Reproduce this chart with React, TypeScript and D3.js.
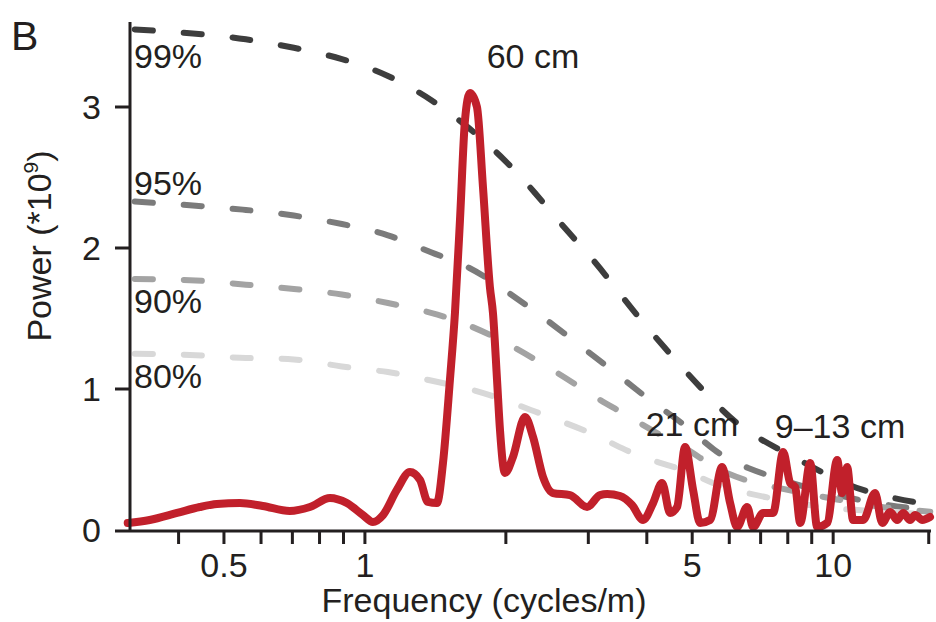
import React from "react";
import * as d3 from "d3";

// periodogram (red line)
const freq = [
  0.3115, 0.347, 0.397, 0.444, 0.483, 0.541, 0.605, 0.691, 0.763, 0.842,
  0.915, 0.99, 1.04, 1.093, 1.17, 1.248, 1.311, 1.363, 1.425, 1.468,
  1.519, 1.557, 1.596, 1.636, 1.676, 1.735, 1.787, 1.849, 1.877, 1.915,
  1.943, 1.991, 2.071, 2.197, 2.286, 2.401, 2.522, 2.742, 2.982, 3.178,
  3.29, 3.506, 3.72, 3.927, 4.125, 4.312, 4.485, 4.642, 4.828, 5.022,
  5.198, 5.46, 5.792, 6.025, 6.236, 6.551, 6.748, 7.087, 7.444, 7.821,
  8.094, 8.296, 8.504, 8.933, 9.245, 9.71, 10.2, 10.45, 10.71, 11.03,
  11.59, 12.29, 12.73, 13.24, 13.7, 14.11, 14.6, 14.97, 15.5, 16.1,
];
const power = [
  0.05, 0.071, 0.121, 0.163, 0.184, 0.191, 0.17, 0.135, 0.163, 0.227,
  0.191, 0.106, 0.057, 0.106, 0.284, 0.411, 0.355, 0.199, 0.191, 0.475,
  1.064, 1.539, 2.199, 2.908, 3.099, 3.0, 2.433, 1.723, 1.539, 1.064,
  0.709, 0.404, 0.518, 0.801, 0.66, 0.376, 0.262, 0.248, 0.163, 0.248,
  0.255, 0.241, 0.177, 0.071, 0.191, 0.333, 0.121, 0.163, 0.589, 0.284,
  0.05, 0.071, 0.447, 0.191, 0.021, 0.163, 0.021, 0.121, 0.121, 0.553,
  0.333, 0.305, 0.05, 0.475, 0.021, 0.05, 0.496, 0.262, 0.447, 0.071,
  0.071, 0.262, 0.05, 0.128, 0.071, 0.121, 0.071, 0.106, 0.071, 0.092,
];

// significance thresholds
const thrFreq = [
  0.3225, 0.4354, 0.5568, 0.705, 0.8929, 1.12, 1.384, 1.668, 1.991, 2.308,
  2.676, 3.116, 3.594, 4.145, 4.828, 5.568, 6.584, 8.42, 10.45, 12.92, 16.12,
];
const thr99 = [3.55, 3.52, 3.48, 3.42, 3.34, 3.22, 3.05, 2.85, 2.62, 2.39, 2.14, 1.89, 1.63, 1.38, 1.13, 0.91, 0.7, 0.5, 0.34, 0.24, 0.18];
const thr95 = [2.33, 2.3, 2.27, 2.23, 2.17, 2.09, 1.97, 1.86, 1.7, 1.55, 1.39, 1.22, 1.06, 0.9, 0.74, 0.57, 0.44, 0.32, 0.24, 0.18, 0.14];
const thr90 = [1.78, 1.77, 1.74, 1.71, 1.67, 1.61, 1.54, 1.45, 1.33, 1.21, 1.08, 0.94, 0.82, 0.7, 0.58, 0.45, 0.35, 0.27, 0.21, 0.16, 0.13];
const thr80 = [1.25, 1.24, 1.22, 1.21, 1.16, 1.12, 1.06, 1.0, 0.92, 0.84, 0.76, 0.67, 0.57, 0.49, 0.42, 0.33, 0.26, 0.19, 0.15, 0.13, 0.11];

const thrLabels = ["99%", "95%", "90%", "80%"];
const thrColors = ["#3d3d3d", "#7b7b7b", "#a3a3a3", "#d8d8d8"];

const xTickLabels = [0.5, 1, 5, 10];
const xTicks = [0.4, 0.5, 0.6, 0.7, 0.8, 0.9, 1, 2, 3, 4, 5, 6, 7, 8, 9, 10, 16];
const yTicks = [0, 1, 2, 3];

const peakLabels = ["60 cm", "21 cm", "9\u201313 cm"];

const font = "'Liberation Sans', Arial, Helvetica, sans-serif";
const ink = "#231f20";
const fs = 34;

export default function App() {
  const x = d3.scaleLog().domain([0.315, 16.1]).range([130, 930]);
  const y = d3.scaleLinear().domain([0, 3.6]).range([530, 22.4]);

  const line = d3
    .line<[number, number]>()
    .x((d) => x(d[0]))
    .y((d) => y(d[1]))
    .curve(d3.curveMonotoneX);

  const thrLine = d3
    .line<[number, number]>()
    .x((d) => x(d[0]))
    .y((d) => y(d[1]))
    .curve(d3.curveNatural);

  const thresholds = [thr99, thr95, thr90, thr80];
  const redData = freq.map((f, i) => [f, power[i]] as [number, number]);

  // text placement
  const thrLabelY = [68, 195, 313, 388];
  const peakPos = [[533, 68], [692, 436], [840, 438]];

  return (
    <svg
      width={936}
      height={622}
      style={{ position: "absolute", left: 0, top: 0, background: "#fff" }}
      fontFamily={font}
    >
      <rect width={936} height={622} fill="#fff" />
      <text x={11} y={50} fontSize={41} fill={ink}>B</text>

      {/* threshold curves */}
      {thresholds.map((vals, k) => (
        <path
          key={thrLabels[k]}
          d={thrLine(thrFreq.map((f, i) => [f, vals[i]] as [number, number])) || ""}
          fill="none"
          stroke={thrColors[k]}
          strokeWidth={6}
          strokeLinecap="round"
          strokeDasharray="18 31"
        />
      ))}
      {thrLabels.map((t, k) => (
        <text key={t} x={134} y={thrLabelY[k]} fontSize={fs} fill={ink}>{t}</text>
      ))}

      {/* red periodogram */}
      <path
        d={line(redData) || ""}
        fill="none"
        stroke="#c1202b"
        strokeWidth={8}
        strokeLinejoin="round"
        strokeLinecap="round"
      />

      {/* axes */}
      <line x1={130} x2={130} y1={22} y2={531} stroke={ink} strokeWidth={3} />
      <line x1={115} x2={931} y1={531} y2={531} stroke={ink} strokeWidth={3} />
      {yTicks.filter((t) => t > 0).map((t) => (
        <line key={t} x1={115} x2={130} y1={y(t)} y2={y(t)} stroke={ink} strokeWidth={3} />
      ))}
      {yTicks.map((t) => (
        <text key={t} x={101} y={y(t) + 12} fontSize={fs} textAnchor="end" fill={ink}>{t}</text>
      ))}
      {xTicks.map((t) => (
        <line key={t} x1={x(t)} x2={x(t)} y1={531} y2={544} stroke={ink} strokeWidth={3} />
      ))}
      {xTickLabels.map((t) => (
        <text key={t} x={x(t)} y={577} fontSize={fs} textAnchor="middle" fill={ink}>{t}</text>
      ))}

      {peakLabels.map((t, i) => (
        <text key={t} x={peakPos[i][0]} y={peakPos[i][1]} fontSize={fs} textAnchor="middle" fill={ink}>
          {t}
        </text>
      ))}

      <text x={484} y={612} fontSize={fs} textAnchor="middle" fill={ink}>
        Frequency (cycles/m)
      </text>
      <text transform="translate(51,246) rotate(-90)" fontSize={fs} textAnchor="middle" fill={ink}>
        Power (*10<tspan fontSize={21} dy={-13}>9</tspan><tspan dy={13}>)</tspan>
      </text>
    </svg>
  );
}
